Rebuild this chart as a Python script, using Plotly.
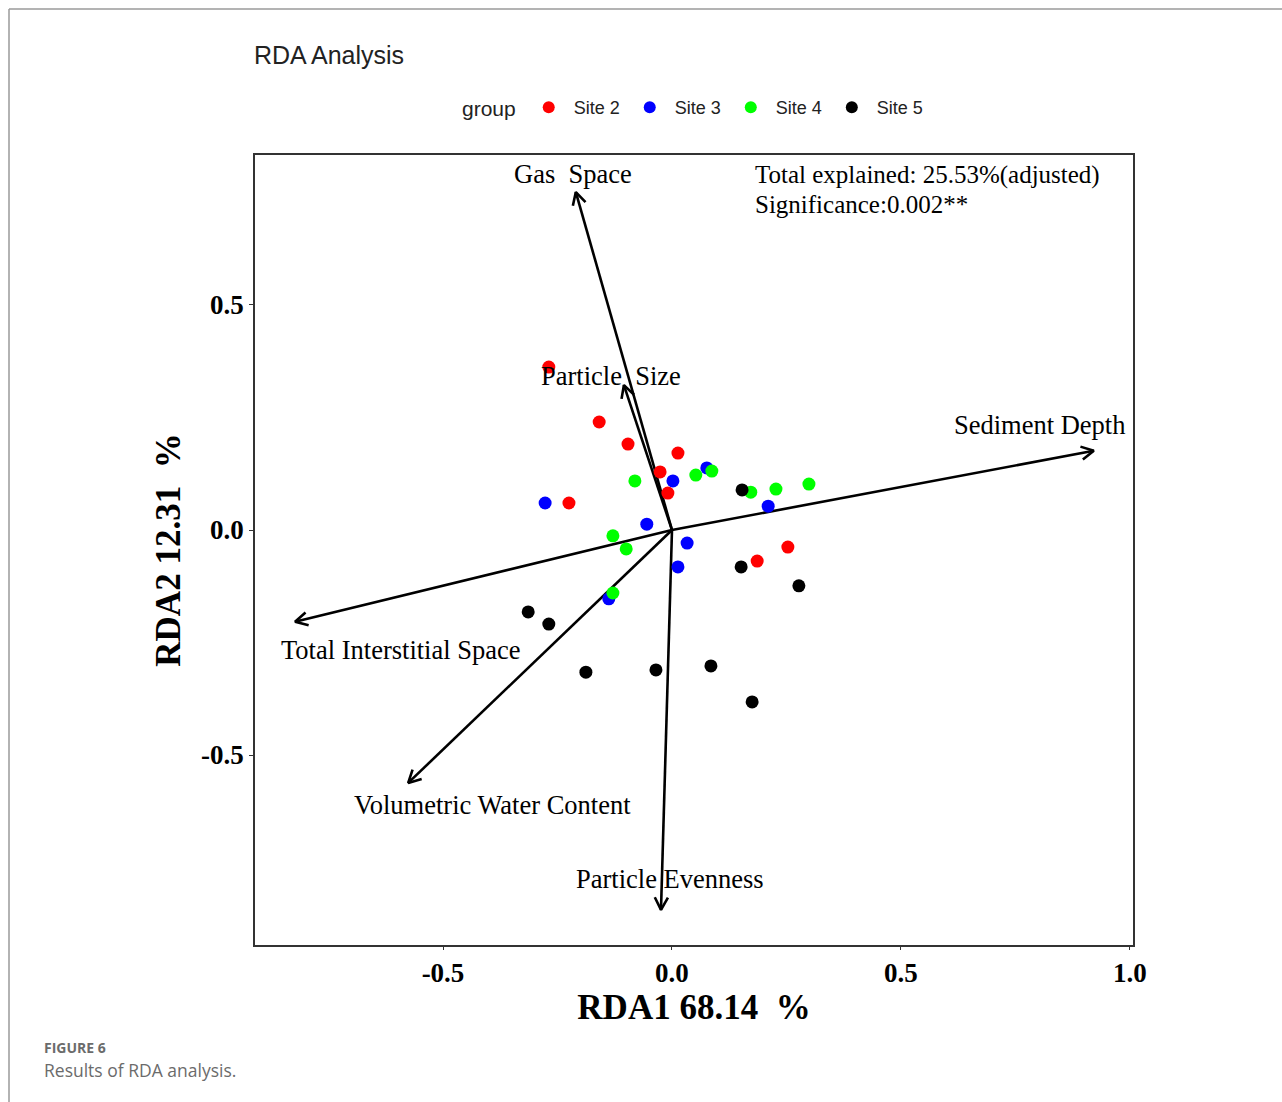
import math
import plotly.graph_objects as go

# ---------------- data ----------------
groups = ["Site 2", "Site 3", "Site 4", "Site 5"]
group_colors = ["#FF0000", "#0000FF", "#00FF00", "#000000"]

site2_x = [-0.269, -0.159, -0.096, 0.013, -0.026, -0.009, -0.225, 0.253, 0.186]
site2_y = [0.362, 0.240, 0.191, 0.171, 0.129, 0.082, 0.060, -0.038, -0.069]
site3_x = [-0.277, -0.055, 0.002, 0.076, 0.210, 0.033, 0.013, -0.138]
site3_y = [0.060, 0.013, 0.109, 0.138, 0.053, -0.029, -0.082, -0.153]
site4_x = [-0.081, 0.052, 0.087, 0.172, 0.227, 0.299, -0.129, -0.100, -0.129]
site4_y = [0.109, 0.122, 0.131, 0.084, 0.091, 0.102, -0.013, -0.042, -0.140]
site5_x = [0.153, 0.151, 0.277, -0.314, -0.269, -0.188, -0.035, 0.085, 0.175]
site5_y = [0.089, -0.082, -0.124, -0.182, -0.209, -0.316, -0.311, -0.302, -0.382]

env_names = ["Gas  Space", "Particle  Size", "Sediment Depth",
             "Total Interstitial Space", "Volumetric Water Content", "Particle Evenness"]
env_x = [-0.210, -0.105, 0.921, -0.823, -0.576, -0.024]
env_y = [0.751, 0.322, 0.176, -0.204, -0.562, -0.844]

x_ticks = [-0.5, 0.0, 0.5, 1.0]
y_ticks = [-0.5, 0.0, 0.5]

# ---------------- layout geometry ----------------
W, H = 1282, 1102
ML, MR, MT, MB = 255, 149, 155, 157
XR = [-0.9105, 1.0066]
YR = [-0.9222, 0.8333]
PW, PH = W - ML - MR, H - MT - MB
sx = PW / (XR[1] - XR[0])
sy = PH / (YR[1] - YR[0])

def px2paper_x(px):
    return (px - ML) / PW

def px2paper_y(py):
    return (H - MB - py) / PH

fig = go.Figure()

# axes through origin
fig.add_hline(y=0, line=dict(color="black", width=1.5))
fig.add_vline(x=0, line=dict(color="black", width=1.5))

# arrows (environment vectors)
head_len = 14
head_ang = math.radians(28)
for ex, ey in zip(env_x, env_y):
    dxp, dyp = ex * sx, ey * sy
    n = math.hypot(dxp, dyp)
    ux, uy = dxp / n, dyp / n
    hx, hy = [], []
    for s in (1, -1):
        c, si = math.cos(s * head_ang), math.sin(s * head_ang)
        rx = ux * c - uy * si
        ry = ux * si + uy * c
        hx.append(ex - head_len * rx / sx)
        hy.append(ey - head_len * ry / sy)
    fig.add_trace(go.Scatter(
        x=[0, ex, None, hx[0], ex, hx[1]],
        y=[0, ey, None, hy[0], ey, hy[1]],
        mode="lines", line=dict(color="black", width=2.6),
        showlegend=False, hoverinfo="skip"))

# points
for name, col, xs, ys in zip(groups, group_colors,
                             [site2_x, site3_x, site4_x, site5_x],
                             [site2_y, site3_y, site4_y, site5_y]):
    fig.add_trace(go.Scatter(
        x=xs, y=ys, mode="markers", name=name,
        marker=dict(color=col, size=13, line=dict(width=0))))

SERIF = "Liberation Serif"
LBL = 26.5

# env labels
label_shift = [(-3, 18), (-13, 9), (-54, 26), (106, -28), (84, -22), (9, 31)]
annotations = []
for nm, ex, ey, (xs_, ys_) in zip(env_names, env_x, env_y, label_shift):
    annotations.append(dict(
        x=ex, y=ey, xref="x", yref="y", text=nm.replace("  ", "&nbsp; "),
        showarrow=False, xshift=xs_, yshift=ys_,
        font=dict(family=SERIF, size=LBL, color="black")))

annotations += [
    dict(x=px2paper_x(753), y=px2paper_y(174.5), xref="paper", yref="paper",
         text="Total explained: 25.53%(adjusted)", showarrow=False, xanchor="left",
         yanchor="middle", font=dict(family=SERIF, size=25, color="black")),
    dict(x=px2paper_x(753), y=px2paper_y(204.5), xref="paper", yref="paper",
         text="Significance:0.002**", showarrow=False, xanchor="left",
         yanchor="middle", font=dict(family=SERIF, size=25, color="black")),
    dict(x=px2paper_x(252), y=px2paper_y(55), xref="paper", yref="paper",
         text="RDA Analysis", showarrow=False, xanchor="left", yanchor="middle",
         font=dict(family="Liberation Sans", size=25, color="#222222")),
    dict(x=px2paper_x(42), y=px2paper_y(1047), xref="paper", yref="paper",
         text="<b>FIGURE 6</b>", showarrow=False, xanchor="left", yanchor="middle",
         font=dict(family="Open Sans", size=14, color="#6b6b6b")),
    dict(x=px2paper_x(42), y=px2paper_y(1070), xref="paper", yref="paper",
         text="Results of RDA analysis.", showarrow=False, xanchor="left", yanchor="middle",
         font=dict(family="Open Sans", size=17.5, color="#6b6b6b")),
]

shapes = [
    dict(type="line", xref="paper", yref="paper",
         x0=px2paper_x(9), x1=px2paper_x(W), y0=px2paper_y(9), y1=px2paper_y(9),
         line=dict(color="#9a9a9a", width=1.5)),
    dict(type="line", xref="paper", yref="paper",
         x0=px2paper_x(9), x1=px2paper_x(9), y0=px2paper_y(9), y1=px2paper_y(H),
         line=dict(color="#9a9a9a", width=1.5)),
]

fig.update_layout(
    width=W, height=H,
    margin=dict(l=ML, r=MR, t=MT, b=MB, pad=0),
    paper_bgcolor="white", plot_bgcolor="white",
    annotations=annotations, shapes=shapes,
    legend=dict(orientation="h", x=px2paper_x(460), y=px2paper_y(108),
                xanchor="left", yanchor="middle",
                title=dict(text="group", side="left",
                           font=dict(family="Liberation Sans", size=21, color="#222222")),
                font=dict(family="Liberation Sans", size=18, color="#222222"),
                itemsizing="constant", tracegroupgap=0, itemwidth=40),
    xaxis=dict(range=XR, showgrid=False, zeroline=False,
               showline=True, mirror=True, linecolor="#333333", linewidth=1.5,
               ticks="outside", ticklen=3, tickcolor="#333333",
               tickvals=x_ticks, ticktext=[f"{v:.1f}" for v in x_ticks],
               tickfont=dict(family=SERIF, size=27, color="black", weight="bold"),
               title=dict(text="RDA1 68.14 &nbsp;%", standoff=0,
                          font=dict(family=SERIF, size=35, color="black", weight="bold"))),
    yaxis=dict(range=YR, showgrid=False, zeroline=False,
               showline=True, mirror=True, linecolor="#333333", linewidth=1.5,
               ticks="outside", ticklen=4, tickcolor="#333333",
               tickvals=y_ticks, ticktext=[f"{v:.1f}" for v in y_ticks],
               tickfont=dict(family=SERIF, size=27, color="black", weight="bold"),
               title=dict(text="RDA2 12.31 &nbsp;%", standoff=10,
                          font=dict(family=SERIF, size=35, color="black", weight="bold"))),
)

fig.write_html("out.html")
